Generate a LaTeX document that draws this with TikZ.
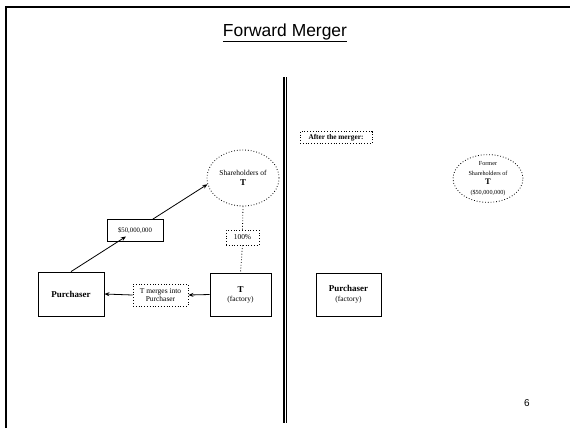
\documentclass[tikz,border=0pt]{standalone}
\usepackage{fontspec}
\setmainfont{Liberation Serif}
\newfontfamily\arialf{Liberation Sans}
\usetikzlibrary{arrows.meta,shapes.geometric}
\begin{document}
\begin{tikzpicture}[x=1bp,y=-1bp,
  solidbox/.style={draw,line width=0.8bp,fill=white,align=center,inner sep=0pt,font=\fontsize{7.5}{9}\selectfont},
  dotbox/.style={draw,dotted,line width=0.8bp,fill=white,align=center,inner sep=0pt,font=\fontsize{7.5}{8.5}\selectfont},
  dotell/.style={draw,dotted,line width=0.8bp,ellipse,align=center,inner sep=0pt,font=\fontsize{7.5}{10}\selectfont},
  arr/.style={line width=0.8bp,-{Stealth[length=5bp,width=4bp]}},
  dotline/.style={dotted,line width=0.8bp}]
\useasboundingbox (0,0) rectangle (570,428);
% frame
\draw[line width=2.2bp] (6,428) -- (6,7) -- (570,7);
% divider
\draw[line width=1.2bp] (284,77) -- (284,423);
\draw[line width=1.2bp] (286.8,77) -- (286.8,423);
% title
\node (title) at (285,33) {\arialf\fontsize{17.5}{20}\selectfont\underline{Forward Merger}};
\node (pg) at (527,403) {\arialf\fontsize{10}{12}\selectfont 6};
% left side
\node[solidbox,minimum width=66bp,minimum height=44bp] (purch) at (71,294) {\fontsize{9}{10}\selectfont\textbf{Purchaser}};
\node[solidbox,minimum width=61bp,minimum height=43bp] (T) at (240.5,294.5) {\textbf{\fontsize{9}{9}\selectfont T}\\(factory)};
\node[dotbox,minimum width=55bp,minimum height=22bp] (merge) at (160.5,295) {T merges into\\Purchaser};
\node[dotell,minimum width=72bp,minimum height=56bp] (sh) at (243,178) {Shareholders of\\\textbf{\fontsize{9}{9}\selectfont T}};
\node[solidbox,minimum width=56bp,minimum height=22bp] (money) at (135,230.5) {\fontsize{6.8}{8}\selectfont\$50,000,000};
\node[dotbox,minimum width=33bp,minimum height=15bp] (pct) at (242.5,237.5) {100\%};
\coordinate (m1) at (126,236.5);
\draw[arr] (purch.north) -- (m1);
\draw[arr] (money) -- (sh.190);
\draw[dotline] (sh.south) -- (pct.north);
\draw[dotline] (pct.south) -- (T.north);
\draw[arr] (T.west) -- (merge.east);
\draw[arr] (merge.west) -- (purch.east);
% right side
\node[dotbox,minimum width=72bp,minimum height=12bp,font=\fontsize{7.3}{8}\selectfont] (after) at (336,137.5) {\textbf{After the merger:}};
\node[dotell,minimum width=70bp,minimum height=47bp,font=\fontsize{6.2}{9.5}\selectfont] (former) at (488,178.5) {Former\\Shareholders of\\\textbf{\fontsize{8.5}{9}\selectfont T}\\(\$50,000,000)};
\node[solidbox,minimum width=65bp,minimum height=43bp] (purch2) at (348.5,294.5) {\textbf{\fontsize{9}{9}\selectfont Purchaser}\\[1bp](factory)};
\end{tikzpicture}
\end{document}
